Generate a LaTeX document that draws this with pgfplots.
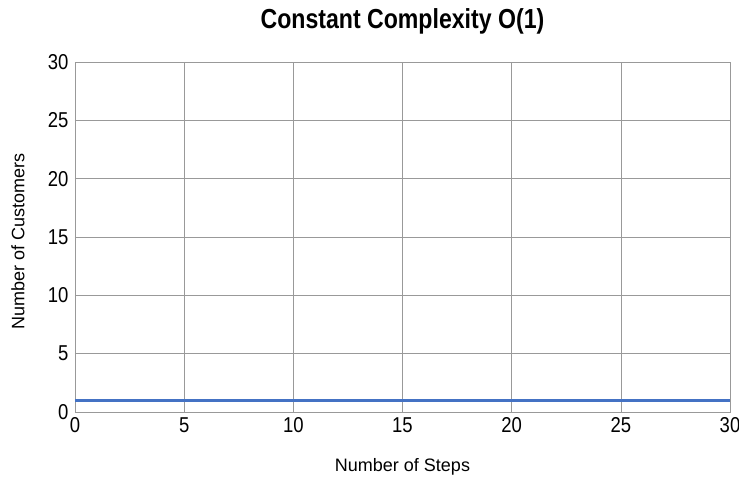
\documentclass[border=0pt]{standalone}
\usepackage{fontspec}
\setmainfont{Liberation Sans}
\newfontfamily\tickfont{Liberation Sans}[FakeStretch=0.86]
\newfontfamily\labelfont{Liberation Sans}[FakeStretch=1.0]
\newfontfamily\titlefont{Liberation Sans}[FakeStretch=0.84]
\usepackage{pgfplots}
\pgfplotsset{compat=1.18}
\begin{document}
\begin{tikzpicture}
\useasboundingbox (-75bp,-70bp) rectangle (664bp,412bp);
\begin{axis}[
  scale only axis,
  width=655bp, height=350bp,
  xmin=0, xmax=30, ymin=0, ymax=30,
  xtick={0,5,...,30}, ytick={0,5,...,30},
  major tick length=0pt,
  grid=major,
  grid style={draw=gray!80, line width=0.6pt},
  axis line style={draw=gray!80, line width=0.8pt},
  /pgf/number format/assume math mode=true,
  tick label style={font=\tickfont\fontsize{21.5bp}{24bp}\selectfont},
  yticklabel style={xshift=-3bp},
  xticklabel style={yshift=-2bp},
  xlabel={Number of Steps},
  ylabel={Number of Customers},
  label style={font=\labelfont\fontsize{18bp}{20bp}\selectfont},
  xlabel style={at={(axis description cs:0.5,-0.157)}, anchor=center},
  ylabel style={at={(axis description cs:-0.087,0.486)}, anchor=center},
  title={\titlefont\bfseries Constant Complexity O(1)},
  title style={font=\fontsize{27.5bp}{30bp}\selectfont, at={(axis description cs:0.5,1.10)}, anchor=center},
]
\addplot[color={rgb,255:red,68;green,114;blue,196}, line width=3.5bp] coordinates {(0,1) (30,1)};
\end{axis}
\end{tikzpicture}
\end{document}
